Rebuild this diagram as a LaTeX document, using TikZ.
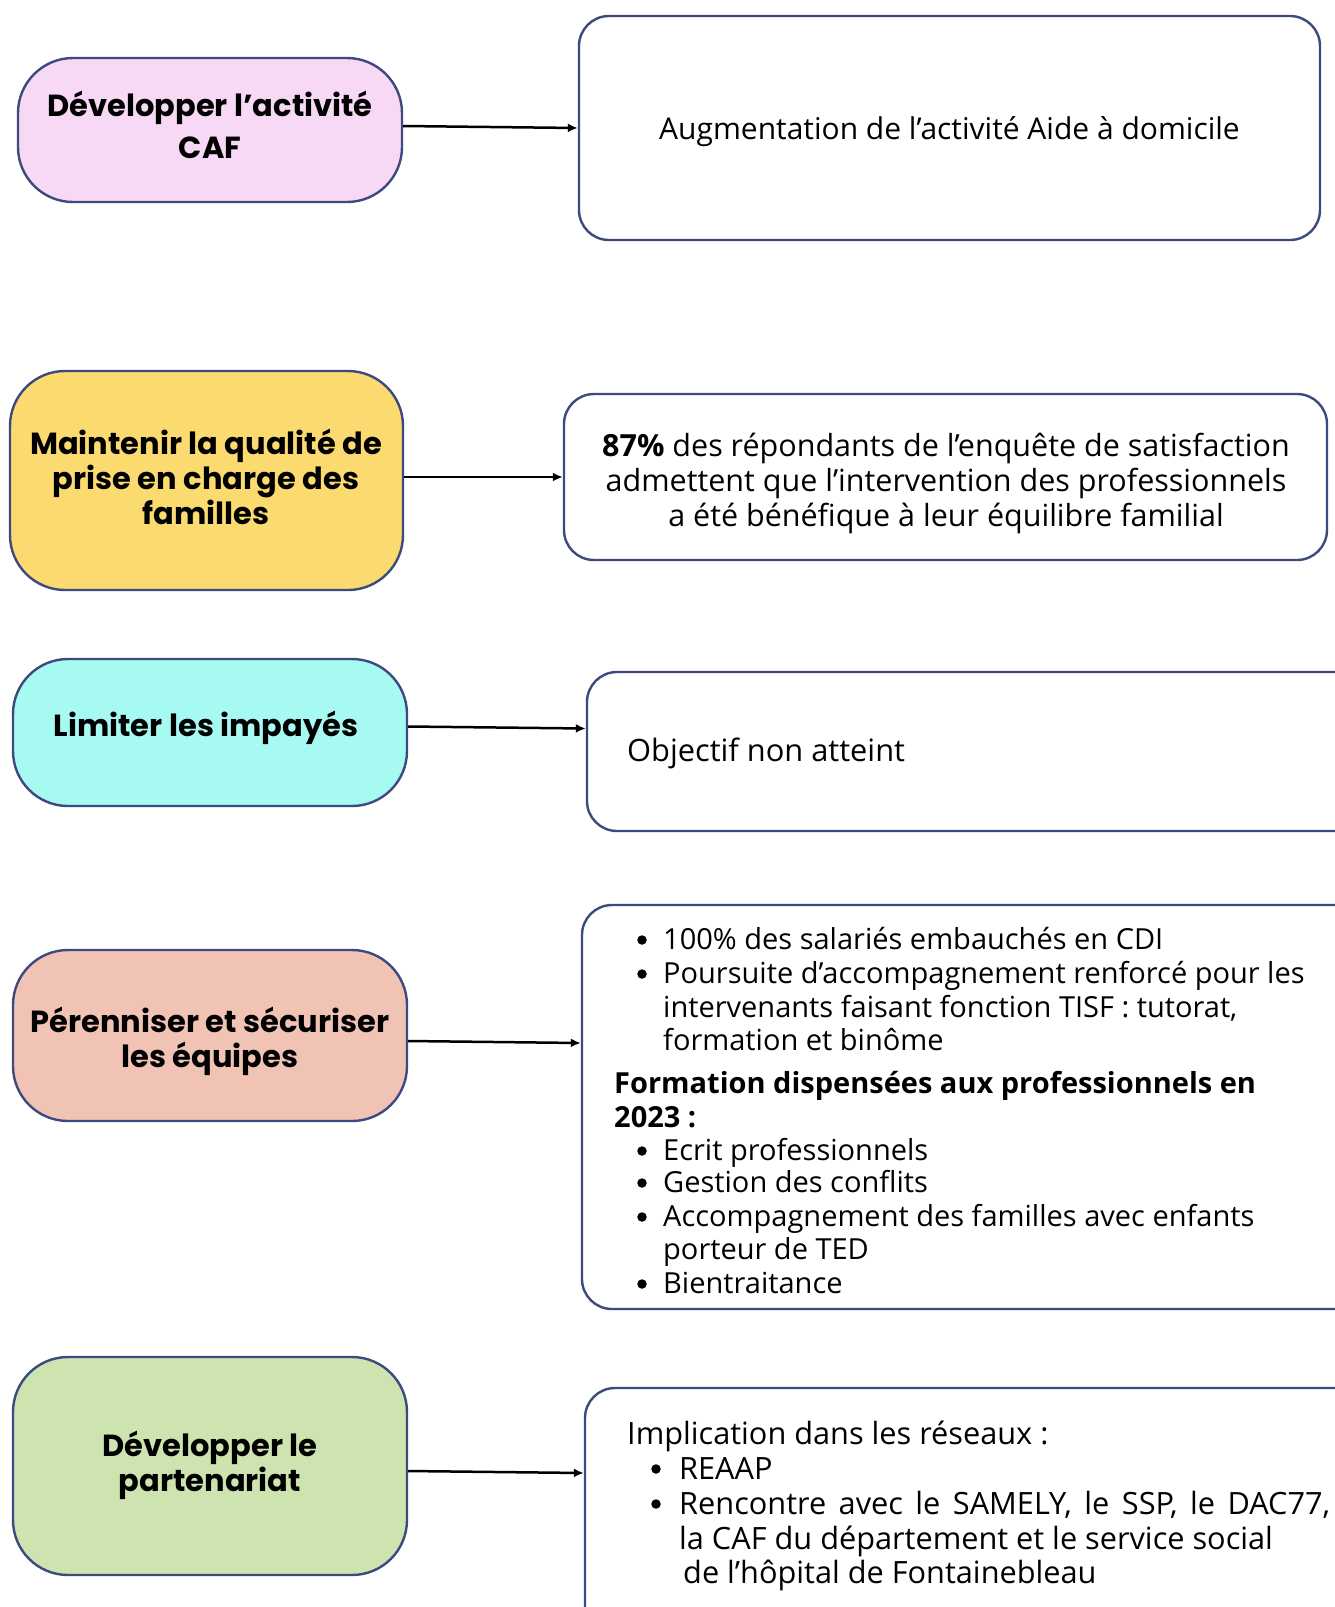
\documentclass[tikz,border=0pt]{standalone}
\usepackage{fontspec}
\usetikzlibrary{arrows.meta}
\newfontfamily\rtf{Open Sans}
\newfontfamily\ltf{Poppins}[BoldFont={* Bold}]
\definecolor{bordc}{RGB}{61,74,126}
\definecolor{cpink}{RGB}{248,217,245}
\definecolor{cyel}{RGB}{251,218,112}
\definecolor{ccyan}{RGB}{166,250,242}
\definecolor{csal}{RGB}{240,195,180}
\definecolor{cgreen}{RGB}{205,227,176}
\tikzset{
  leftbox/.style={draw=bordc, line width=2.4pt, rounded corners=55pt, inner sep=0pt},
  rightbox/.style={draw=bordc, line width=2.4pt, rounded corners=30pt, inner sep=0pt, fill=white},
  ltext/.style={font=\ltf\bfseries\fontsize{30.5}{35}\selectfont, align=center, inner sep=0pt, text=black},
  rtext/.style={font=\rtf\fontsize{29}{34}\selectfont, inner sep=0pt, anchor=base west, text=black},
  rtextv/.style={rtext, font=\rtf\fontsize{30.7}{35}\selectfont},
  bul/.style={circle, fill=black, minimum size=9.5pt, inner sep=0pt},
  conn/.style={line width=2.5pt, -{Latex[length=10pt,width=9pt]}}
}
\begin{document}
\begin{tikzpicture}[x=1pt,y=-1pt]
\useasboundingbox (0,0) rectangle (1335,1607);
\clip (0,0) rectangle (1335,1607);
% left boxes
\node[leftbox, fill=cpink, minimum width=384pt, minimum height=144pt] (L1) at (210,130) {};
\node[leftbox, fill=cyel, minimum width=393pt, minimum height=219pt] (L2) at (206.5,480.5) {};
\node[leftbox, fill=ccyan, minimum width=394pt, minimum height=147pt] (L3) at (210,732.5) {};
\node[leftbox, fill=csal, minimum width=394pt, minimum height=171pt] (L4) at (210,1035.5) {};
\node[leftbox, fill=cgreen, minimum width=394pt, minimum height=218pt] (L5) at (210,1466) {};
% left texts
\node[ltext, font=\ltf\bfseries\fontsize{30.5}{42}\selectfont] (T1) at (210,125) {Développer l’activité\\CAF};
\node[ltext] (T2) at (206,477) {Maintenir la qualité de\\prise en charge des\\familles};
\node[ltext] (T3) at (206,728) {Limiter les impayés};
\node[ltext] (T4) at (210,1041) {Pérenniser et sécuriser\\les équipes};
\node[ltext] (T5) at (210,1465) {Développer le\\partenariat};
% right boxes
\node[rightbox, minimum width=741pt, minimum height=224pt] (R1) at (949.5,128) {};
\node[rightbox, minimum width=763pt, minimum height=166pt] (R2) at (945.5,477) {};
\node[rightbox, minimum width=778pt, minimum height=159pt] (R3) at (976,751.5) {};
\node[rightbox, minimum width=783pt, minimum height=404pt] (R4) at (973.5,1107) {};
\node[rightbox, minimum width=780pt, minimum height=252pt] (R5) at (975,1514) {};
% connectors
\draw[conn] ([yshift=4pt]L1.east) -- (R1.west);
\draw[conn] ([yshift=3.5pt]L2.east) -- (R2.west);
\draw[conn] ([yshift=6pt]L3.east) -- ([yshift=23pt]R3.west);
\draw[conn] ([yshift=-5.5pt]L4.east) -- ([yshift=64pt]R4.west);
\draw[conn] ([yshift=-5pt]L5.east) -- ([yshift=41pt]R5.west);
% right texts
\node[rtext, anchor=center, font=\rtf\fontsize{30}{35}\selectfont] (A1) at (949.5,132) {Augmentation de l’activité Aide à domicile};
\node[rtext, anchor=center, align=center, font=\rtf\fontsize{30.5}{35}\selectfont] (A2) at (946,483) {{\bfseries 87\%} des répondants de l’enquête de satisfaction\\admettent que l’intervention des professionnels\\a été bénéfique à leur équilibre familial};
\node[rtext, anchor=west, font=\rtf\fontsize{30.8}{35}\selectfont] (A3) at (627,753) {Objectif non atteint};
% box 4
\node[bul] (B1b) at (642,940) {};
\node[rtext] (B1) at (663,949) {100\% des salariés embauchés en CDI};
\node[bul] (B2b) at (642,974) {};
\node[rtext] (B2) at (663,983) {Poursuite d’accompagnement renforcé pour les};
\node[rtext] (B3) at (663,1017) {intervenants faisant fonction TISF : tutorat,};
\node[rtext] (B4) at (663,1050) {formation et binôme};
\node[rtext, font=\rtf\bfseries\fontsize{29}{34}\selectfont] (B5) at (614,1093) {Formation dispensées aux professionnels en};
\node[rtext, font=\rtf\bfseries\fontsize{29}{34}\selectfont] (B6) at (614,1127) {2023 :};
\node[bul] (B7b) at (642,1151) {};
\node[rtext] (B7) at (663,1160) {Ecrit professionnels};
\node[bul] (B8b) at (642,1183) {};
\node[rtext] (B8) at (663,1192) {Gestion des conflits};
\node[bul] (B9b) at (642,1217) {};
\node[rtext] (B9) at (663,1226) {Accompagnement des familles avec enfants};
\node[rtext] (B10) at (663,1259) {porteur de TED};
\node[bul] (B11b) at (642,1284) {};
\node[rtext] (B11) at (663,1293) {Bientraitance};
% box 5
\node[rtextv] (C1) at (627,1444) {Implication dans les réseaux :};
\node[bul] (C2b) at (656,1469) {};
\node[rtextv] (C2) at (679,1479) {REAAP};
\node[bul] (C3b) at (656,1504) {};
\node[rtextv] (C3) at (679,1514) {\makebox[651pt][s]{Rencontre avec le SAMELY, le SSP, le DAC77,}};
\node[rtextv] (C4) at (679,1549) {la CAF du département et le service social};
\node[rtextv] (C5) at (683,1583) {de l’hôpital de Fontainebleau};
\end{tikzpicture}
\end{document}
